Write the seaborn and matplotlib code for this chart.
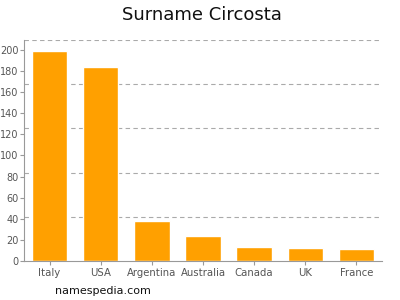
import matplotlib
matplotlib.use("Agg")
import matplotlib.pyplot as plt
import seaborn as sns
import pandas as pd

countries = ["Italy", "USA", "Argentina", "Australia", "Canada", "UK", "France"]
counts = [199, 184, 38, 24, 13, 12, 11]
yticks = [0, 20, 40, 60, 80, 100, 120, 140, 160, 180, 200]

df = pd.DataFrame({"country": countries, "count": counts})

sns.set_style("white")
plt.rcParams['font.family'] = ['DejaVu Sans']

fig = plt.figure(figsize=(4, 3), dpi=100)
ax = fig.add_axes([0.06, 0.13, 0.895, 0.737])

ymax = 209.5
ax.set_ylim(0, ymax)
for k in range(1, 6):
    ax.axhline(ymax * k / 5, color="#aaaaaa", linestyle=(0, (4, 3)), linewidth=0.8, zorder=0)

sns.barplot(data=df, x="country", y="count", color="#ffa000", width=0.69,
            saturation=1, ax=ax, zorder=2)

ax.set_xlim(-0.5, len(countries) - 0.5)
ax.set_yticks(yticks)
ax.set_xlabel("")
ax.set_ylabel("")
for s in ["top", "right"]:
    ax.spines[s].set_visible(False)
for s in ["left", "bottom"]:
    ax.spines[s].set_color("#999999")
    ax.spines[s].set_linewidth(0.8)
ax.tick_params(axis="both", colors="#999999", labelcolor="#555555", labelsize=7,
               length=3, width=0.8, pad=1, left=True, bottom=True)
ax.tick_params(axis="x", labelsize=7.3, pad=2)

fig.text(0.505, 0.95, "Surname Circosta", ha="center", va="center", fontsize=13, color="#111111")
fig.text(0.137, 0.03, "namespedia.com", ha="left", va="center", fontsize=8, color="#111111")

fig.savefig("out.png", dpi=100)
